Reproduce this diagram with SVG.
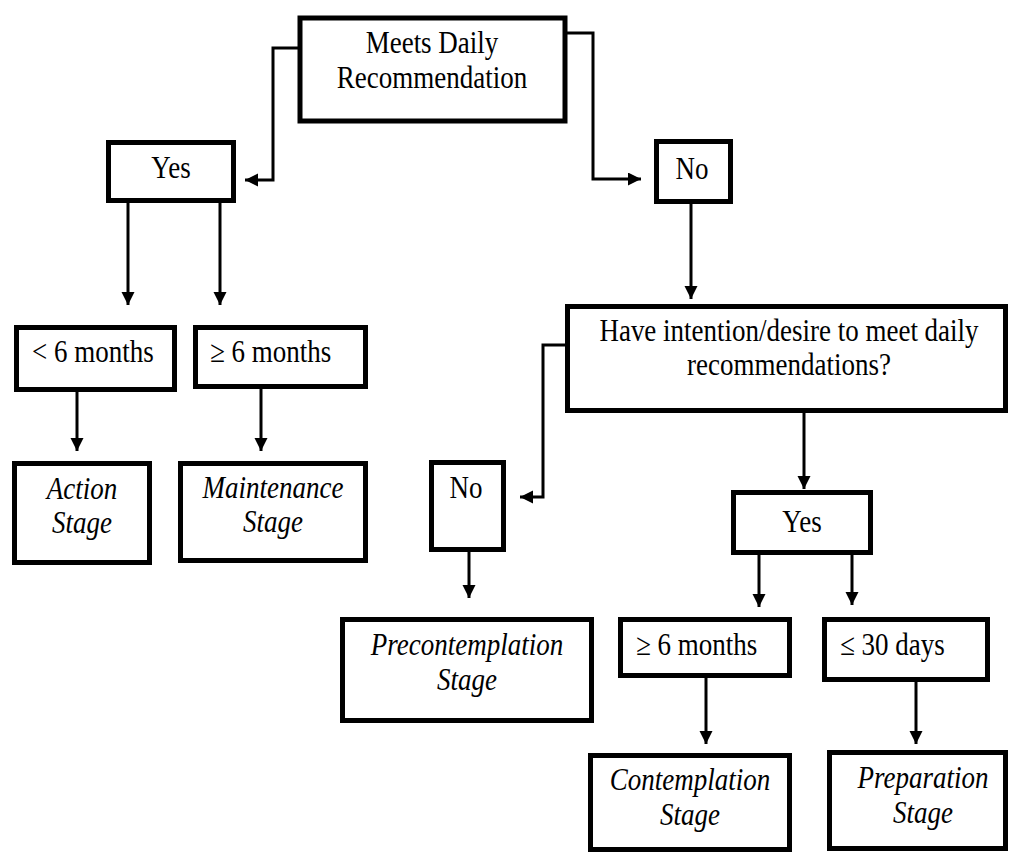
<svg xmlns="http://www.w3.org/2000/svg" width="1010" height="852" viewBox="0 0 1010 852">
<style>
.box{fill:#fff;stroke:#000;stroke-width:5}
.t{font-family:"Liberation Serif","Times New Roman",serif;font-size:27px;fill:#000}
.c{text-anchor:middle}
.i{font-style:italic}
.ln{fill:none;stroke:#000;stroke-width:3;marker-end:url(#ah)}
</style>
<defs>
<marker id="ah" markerUnits="userSpaceOnUse" markerWidth="14" markerHeight="14" refX="13" refY="6.5" orient="auto">
<path d="M0,0 L13,6.5 L0,13 Z" fill="#000"/>
</marker>
</defs>
<rect width="1010" height="852" fill="#fff"/>
<g id="connectors">
<path class="ln" d="M298,48 H273 V180 H245"/>
<path class="ln" d="M567,33 H593 V179 H641"/>
<path class="ln" d="M128,203 V305"/>
<path class="ln" d="M220,203 V305"/>
<path class="ln" d="M77,392 V451"/>
<path class="ln" d="M261,389 V451"/>
<path class="ln" d="M691,204 V299"/>
<path class="ln" d="M565,345 H543 V497 H520"/>
<path class="ln" d="M804,413 V489"/>
<path class="ln" d="M469,552 V598"/>
<path class="ln" d="M759,555 V607"/>
<path class="ln" d="M852,555 V605"/>
<path class="ln" d="M706,678 V744"/>
<path class="ln" d="M916,682 V744"/>
</g>
<g id="meets">
<rect class="box" x="300" y="18" width="265" height="103"/>
<text class="t c" transform="translate(432,53) scale(1,1.15)">Meets Daily</text>
<text class="t c" transform="translate(432,88) scale(1,1.15)">Recommendation</text>
</g>
<g id="yes1">
<rect class="box" x="108.5" y="142.5" width="125" height="58"/>
<text class="t c" transform="translate(171,178) scale(1,1.15)">Yes</text>
</g>
<g id="no1">
<rect class="box" x="656.5" y="141.5" width="74" height="60"/>
<text class="t c" transform="translate(692,179) scale(1,1.15)">No</text>
</g>
<g id="lt6">
<rect class="box" x="16.5" y="327.5" width="158" height="62"/>
<text class="t" transform="translate(32,362) scale(1,1.15)">&lt; 6 months</text>
</g>
<g id="ge6a">
<rect class="box" x="195.5" y="327.5" width="170" height="59"/>
<text class="t" transform="translate(210,362) scale(1,1.15)">≥ 6 months</text>
</g>
<g id="action">
<rect class="box" x="14.5" y="463.5" width="135" height="99"/>
<text class="t c i" transform="translate(82,499) scale(1,1.15)">Action</text>
<text class="t c i" transform="translate(82,533) scale(1,1.15)">Stage</text>
</g>
<g id="maintenance">
<rect class="box" x="180.5" y="463.5" width="185" height="97"/>
<text class="t c i" transform="translate(273,498) scale(1,1.15)">Maintenance</text>
<text class="t c i" transform="translate(273,532) scale(1,1.15)">Stage</text>
</g>
<g id="intention">
<rect class="box" x="567.5" y="306.5" width="438" height="104"/>
<text class="t c" transform="translate(789,341) scale(1,1.15)">Have intention/desire to meet daily</text>
<text class="t c" transform="translate(789,375) scale(1,1.15)">recommendations?</text>
</g>
<g id="no2">
<rect class="box" x="431.5" y="462.5" width="72" height="87"/>
<text class="t c" transform="translate(466,498) scale(1,1.15)">No</text>
</g>
<g id="yes2">
<rect class="box" x="733.5" y="492.5" width="137" height="60"/>
<text class="t c" transform="translate(802,532) scale(1,1.15)">Yes</text>
</g>
<g id="precontemplation">
<rect class="box" x="342.5" y="619.5" width="249" height="101"/>
<text class="t c i" transform="translate(467,655) scale(1,1.15)">Precontemplation</text>
<text class="t c i" transform="translate(467,690) scale(1,1.15)">Stage</text>
</g>
<g id="ge6b">
<rect class="box" x="620.5" y="619.5" width="169" height="56"/>
<text class="t" transform="translate(636,655) scale(1,1.15)">≥ 6 months</text>
</g>
<g id="le30">
<rect class="box" x="824.5" y="619.5" width="163" height="60"/>
<text class="t" transform="translate(840,655) scale(1,1.15)">≤ 30 days</text>
</g>
<g id="contemplation">
<rect class="box" x="590.5" y="755.5" width="199" height="94"/>
<text class="t c i" transform="translate(690,790) scale(1,1.15)">Contemplation</text>
<text class="t c i" transform="translate(690,825) scale(1,1.15)">Stage</text>
</g>
<g id="preparation">
<rect class="box" x="829.5" y="752.5" width="176" height="96"/>
<text class="t c i" transform="translate(923,788) scale(1,1.15)">Preparation</text>
<text class="t c i" transform="translate(923,823) scale(1,1.15)">Stage</text>
</g>
</svg>
